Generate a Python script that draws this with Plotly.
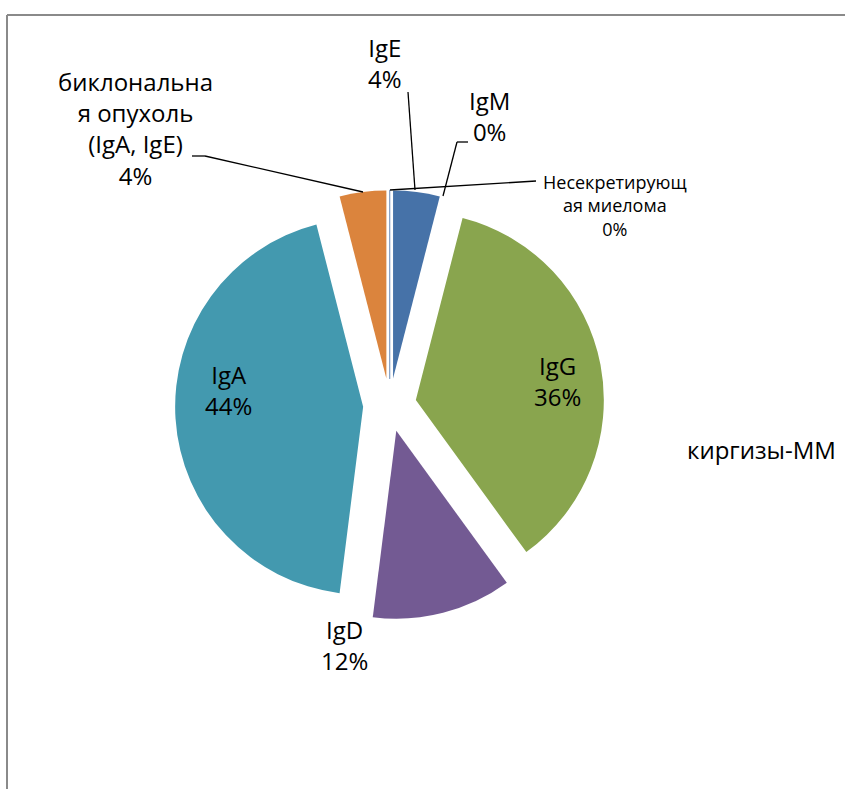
import plotly.graph_objects as go

# Immunoglobulin types of multiple myeloma (share of patients)
labels = ["IgE", "IgM", "IgG", "IgD", "IgA",
          "биклональная опухоль (IgA, IgE)", "Несекретирующая миелома"]
values = [1, 0, 9, 3, 11, 1, 0]
display_names = ["IgE", "IgM", "IgG", "IgD", "IgA",
                 "биклональна<br>я опухоль<br>(IgA, IgE)",
                 "Несекретирующ<br>ая миелома"]
colors = ["#4672A8", "#A94643", "#89A54E", "#735A93", "#4399AF", "#DB843D", "#8BA6C8"]
chart_title = "киргизы-ММ"

W, H = 845, 789
FONT = "Open Sans"

total = sum(values)
percents = [round(v / total * 100) for v in values]
texts = [f"{n}<br>{p}%" for n, p in zip(display_names, percents)]

# pie geometry (pixels)
cx, cy, r, pull = 389.7, 405.0, 188.0, 0.1415
half = r * (1 + pull)


def px(x):
    return x / W


def py(y):
    return 1 - y / H


fig = go.Figure(go.Pie(
    labels=labels,
    values=values,
    sort=False,
    direction="clockwise",
    rotation=0,
    pull=[pull] * len(values),
    marker=dict(colors=colors,
                line=dict(color=["#FFFFFF"] * 6 + ["#7F9CC2"],
                          width=[0] * 6 + [1.2])),
    textinfo="none",
    hoverinfo="label+percent",
    showlegend=False,
    domain=dict(x=[px(cx - half), px(cx + half)],
                y=[py(cy + half), py(cy - half)]),
))

# label placement: (x, y, font size) for each slice
label_pos = {
    "IgE": (385, 63, 24),
    "IgM": (490, 116, 24),
    "IgG": (557, 381, 24),
    "IgD": (344, 645, 24),
    "IgA": (228, 390, 24),
    "биклональная опухоль (IgA, IgE)": (135, 128, 24),
    "Несекретирующая миелома": (615, 206, 18),
}

annotations = []
for lab, txt in zip(labels, texts):
    x, y, fs = label_pos[lab]
    annotations.append(dict(
        x=px(x), y=py(y), xref="paper", yref="paper",
        text=txt, showarrow=False, xanchor="center", yanchor="middle",
        font=dict(family=FONT, size=fs, color="#000000"),
    ))

annotations.append(dict(
    x=px(761), y=py(449), xref="paper", yref="paper",
    text=chart_title, showarrow=False, xanchor="center", yanchor="middle",
    font=dict(family=FONT, size=24, color="#000000"),
))

# leader lines from outside labels to their slices
leaders = [
    [(408, 92), (415, 190)],
    [(468, 142), (457, 142), (443, 196)],
    [(536, 181), (390, 190)],
    [(192, 156), (205, 156), (363, 192)],
]
shapes = []
for pts in leaders:
    for (x0, y0), (x1, y1) in zip(pts[:-1], pts[1:]):
        shapes.append(dict(type="line", xref="paper", yref="paper",
                           x0=px(x0), y0=py(y0), x1=px(x1), y1=py(y1),
                           line=dict(color="#000000", width=1.3)))

# chart area frame (top and left edges)
frame = dict(color="#8A8A8A", width=2)
shapes.append(dict(type="line", xref="paper", yref="paper",
                   x0=px(7), y0=py(15), x1=1.0, y1=py(15), line=frame))
shapes.append(dict(type="line", xref="paper", yref="paper",
                   x0=px(7), y0=py(15), x1=px(7), y1=0.0, line=frame))

fig.update_layout(
    width=W, height=H,
    margin=dict(l=0, r=0, t=0, b=0),
    paper_bgcolor="#FFFFFF",
    plot_bgcolor="#FFFFFF",
    font=dict(family=FONT, color="#000000"),
    annotations=annotations,
    shapes=shapes,
)

fig.write_html("out.html")
